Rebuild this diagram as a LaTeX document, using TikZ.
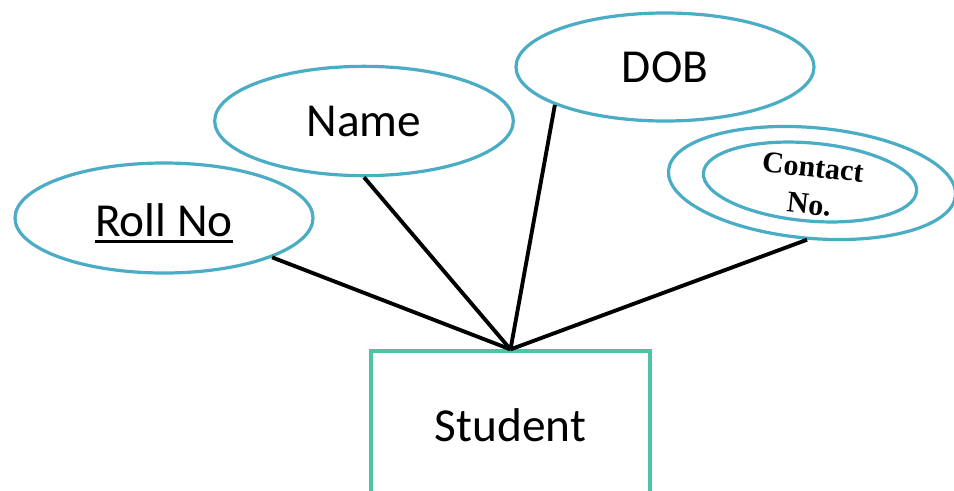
\documentclass[tikz,border=0pt]{standalone}
\usepackage{fontspec}
\setmainfont{Carlito}
\newfontfamily\contactfont{Liberation Serif}
\usetikzlibrary{shapes.geometric}
\definecolor{attrblue}{HTML}{4BACC6}
\definecolor{entgreen}{HTML}{4DC4A6}
\begin{document}
\begin{tikzpicture}[x=0.75pt,y=-0.75pt,
  attr/.style={ellipse, draw=attrblue, line width=2.4pt, inner sep=0pt,
    font=\fontsize{35.5}{40}\selectfont},
  label/.style={inner sep=0pt, font=\fontsize{35.5}{40}\selectfont},
  entity/.style={rectangle, draw=entgreen, line width=2.4pt, inner sep=0pt,
    font=\fontsize{35.5}{40}\selectfont},
  link/.style={draw=black, line width=2.9pt}]
\clip (0,0) rectangle (954,490);
\fill[white] (0,0) rectangle (954,490);

\node[entity, minimum width=209.25pt, minimum height=111pt] (student) at (510.5,425) {Student};

\node[attr, minimum width=223.5pt, minimum height=82.5pt] (roll) at (164,218) {};
\node[label] (rolltxt) at (164,220) {Roll No};
\draw[line width=2.2pt] ([yshift=-3.8pt]rolltxt.base west) -- ([yshift=-3.8pt]rolltxt.base east);

\node[attr, minimum width=224pt, minimum height=82pt] (name) at (364,121) {Name};
\node[attr, minimum width=223.5pt, minimum height=81pt] (dob) at (665,67) {DOB};

\node[attr, rotate=-5, minimum width=216pt, minimum height=83pt] (contact) at (812,183) {};
\node[attr, rotate=-5, minimum width=160.5pt, minimum height=58.5pt] (contactin) at (810,182) {};
\node[rotate=-6, align=center, inner sep=0pt,
  font=\contactfont\bfseries\fontsize{22.5}{28}\selectfont] (ctext) at (811,186) {Contact\\No.};

\draw[link] (roll.-20) -- (student.north);
\draw[link] (name.south) -- (student.north);
\draw[link] (dob.-161) -- (student.north);
\draw[link] (contact.south) -- (student.north);
\end{tikzpicture}
\end{document}
